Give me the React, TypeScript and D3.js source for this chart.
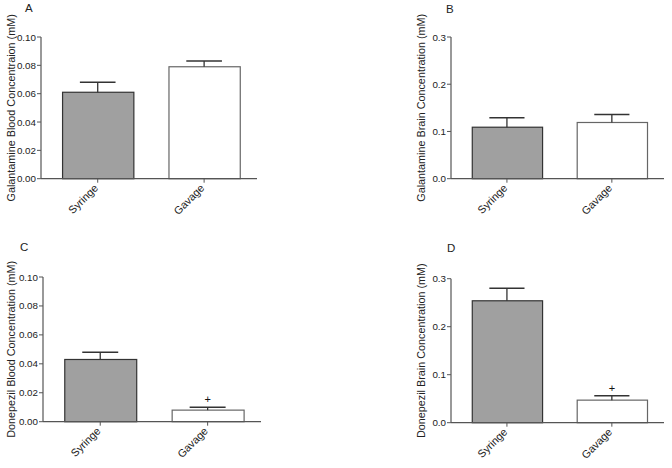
import React from "react";
import * as d3 from "d3";

const categories = ["Syringe", "Gavage"];

const galBloodMean = [0.061, 0.079];
const galBloodErr = [0.007, 0.004];
const galBrainMean = [0.109, 0.119];
const galBrainErr = [0.02, 0.017];
const donBloodMean = [0.043, 0.008];
const donBloodErr = [0.005, 0.002];
const donBrainMean = [0.254, 0.047];
const donBrainErr = [0.026, 0.009];

const bloodTicks = [0, 0.02, 0.04, 0.06, 0.08, 0.1];
const brainTicks = [0, 0.1, 0.2, 0.3];

const sigMarks = [
  [false, false],
  [false, false],
  [false, true],
  [false, true],
];

const FONT = "Arial, 'Liberation Sans', Helvetica, sans-serif";
const fills = ["#a0a0a0", "#ffffff"];
const strokes = ["#333333", "#666666"];

type PanelProps = {
  letter: string;
  letterX: number;
  letterY: number;
  yLabel: string;
  yLabelX: number;
  x0: number;
  x1: number;
  yTop: number;
  yBot: number;
  ticks: number[];
  fmt: string;
  yMax: number;
  means: number[];
  errs: number[];
  sig: boolean[];
};

function Panel(p: PanelProps) {
  const x = d3
    .scaleBand<string>()
    .domain(categories)
    .range([p.x0, p.x1])
    .paddingInner(0.33)
    .paddingOuter(0.18)
    .align(0.55);
  const y = d3.scaleLinear().domain([0, p.yMax]).range([p.yBot, p.yTop]);
  const f = d3.format(p.fmt);
  const bw = x.bandwidth();
  return (
    <g fontFamily={FONT}>
      <text x={p.letterX} y={p.letterY} fontSize={11.5} fill="#222">
        {p.letter}
      </text>
      <text
        transform={`translate(${p.yLabelX},${(p.yTop + p.yBot) / 2}) rotate(-90)`}
        textAnchor="middle"
        fontSize={10.8}
        fill="#222"
      >
        {p.yLabel}
      </text>
      {categories.map((c, i) => {
        const bx = x(c)!;
        const cx = bx + bw / 2;
        const top = y(p.means[i]);
        const cap = y(p.means[i] + p.errs[i]);
        return (
          <g key={c}>
            <rect
              x={bx + 0.5}
              y={top}
              width={bw}
              height={p.yBot - top}
              fill={fills[i]}
              stroke={strokes[i]}
              strokeWidth={1.2}
            />
            <line x1={cx} x2={cx} y1={top} y2={cap} stroke="#333" strokeWidth={1.3} />
            <line
              x1={cx - bw / 4}
              x2={cx + bw / 4}
              y1={cap}
              y2={cap}
              stroke="#333"
              strokeWidth={1.5}
            />
            {p.sig[i] && (
              <text x={cx} y={cap - 4} textAnchor="middle" fontSize={11} fill="#111">
                +
              </text>
            )}
            <line x1={cx} x2={cx} y1={p.yBot} y2={p.yBot + 4} stroke="#555" strokeWidth={1} />
            <text
              transform={`translate(${cx + 1},${p.yBot + 10}) rotate(-45)`}
              textAnchor="end"
              fontSize={10.8}
              fill="#222"
            >
              {c}
            </text>
          </g>
        );
      })}
      <line x1={p.x0} x2={p.x1} y1={p.yBot} y2={p.yBot} stroke="#555" strokeWidth={1.2} />
      <line x1={p.x0} x2={p.x0} y1={p.yTop} y2={p.yBot} stroke="#555" strokeWidth={1.2} />
      {p.ticks.map((t) => (
        <g key={t}>
          <line x1={p.x0 - 4} x2={p.x0} y1={y(t)} y2={y(t)} stroke="#555" strokeWidth={1} />
          <text
            x={p.x0 - 5}
            y={y(t)}
            dy="0.36em"
            textAnchor="end"
            fontSize={9.8}
            fill="#222"
          >
            {f(t)}
          </text>
        </g>
      ))}
    </g>
  );
}

export default function App() {
  return (
    <svg
      width={672}
      height={468}
      style={{ position: "absolute", left: 0, top: 0, background: "#fff" }}
    >
      <rect width={672} height={468} fill="#fff" />
      <Panel
        letter="A"
        letterX={25}
        letterY={12}
        yLabel="Galantamine Blood Concentraion (mM)"
        yLabelX={14.5}
        x0={41}
        x1={257}
        yTop={37}
        yBot={178.7}
        ticks={bloodTicks}
        fmt=".2f"
        yMax={0.1}
        means={galBloodMean}
        errs={galBloodErr}
        sig={sigMarks[0]}
      />
      <Panel
        letter="B"
        letterX={446}
        letterY={13}
        yLabel="Galantamine  Brain Concentration (mM)"
        yLabelX={425}
        x0={451}
        x1={664}
        yTop={37}
        yBot={178.7}
        ticks={brainTicks}
        fmt=".1f"
        yMax={0.3}
        means={galBrainMean}
        errs={galBrainErr}
        sig={sigMarks[1]}
      />
      <Panel
        letter="C"
        letterX={20}
        letterY={251}
        yLabel="Donepezil Blood  Concentration (mM)"
        yLabelX={14.5}
        x0={43}
        x1={261}
        yTop={277}
        yBot={421.7}
        ticks={bloodTicks}
        fmt=".2f"
        yMax={0.1}
        means={donBloodMean}
        errs={donBloodErr}
        sig={sigMarks[2]}
      />
      <Panel
        letter="D"
        letterX={447}
        letterY={252}
        yLabel="Donepezil Brain Concentration (mM)"
        yLabelX={425}
        x0={451}
        x1={664}
        yTop={278.7}
        yBot={422.7}
        ticks={brainTicks}
        fmt=".1f"
        yMax={0.3}
        means={donBrainMean}
        errs={donBrainErr}
        sig={sigMarks[3]}
      />
    </svg>
  );
}
